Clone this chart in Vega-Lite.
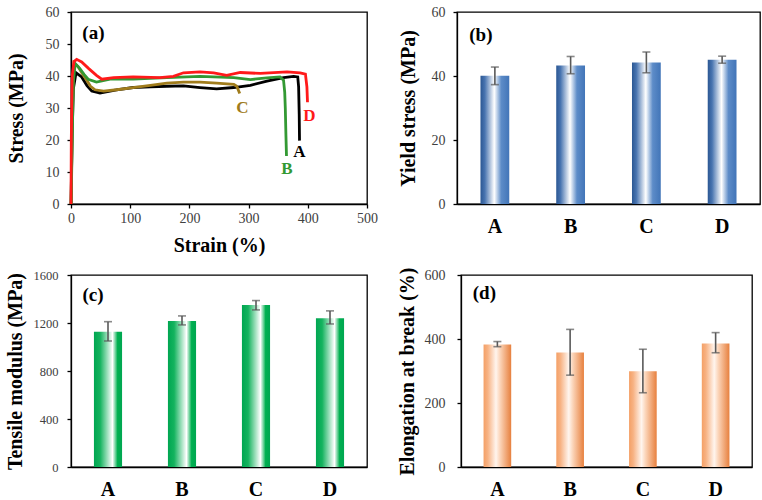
{
  "$schema": "https://vega.github.io/schema/vega-lite/v6.json",
  "autosize": {"type": "pad"},
  "padding": {"left": 4, "top": 4, "right": 0, "bottom": 0},
  "background": "white",
  "datasets": {
    "curves": [
      {"series":"A","strain":0,"stress":0},{"series":"A","strain":2,"stress":22},{"series":"A","strain":4,"stress":36},{"series":"A","strain":8.5,"stress":41},{"series":"A","strain":18,"stress":39.7},{"series":"A","strain":27,"stress":37},{"series":"A","strain":35,"stress":35.3},{"series":"A","strain":49,"stress":34.7},{"series":"A","strain":77,"stress":35.7},{"series":"A","strain":105,"stress":36.4},{"series":"A","strain":134,"stress":36.6},{"series":"A","strain":162,"stress":36.8},{"series":"A","strain":190,"stress":36.9},{"series":"A","strain":218,"stress":36.4},{"series":"A","strain":246,"stress":36},{"series":"A","strain":275,"stress":36.4},{"series":"A","strain":303,"stress":37.1},{"series":"A","strain":331,"stress":38.4},{"series":"A","strain":359,"stress":39.5},{"series":"A","strain":376,"stress":39.9},{"series":"A","strain":383,"stress":39.7},{"series":"A","strain":384.5,"stress":36.6},{"series":"A","strain":385.5,"stress":28},{"series":"A","strain":386,"stress":19.8},
      {"series":"C","strain":0.2,"stress":0},{"series":"C","strain":2,"stress":26},{"series":"C","strain":3.5,"stress":38},{"series":"C","strain":5,"stress":44.1},{"series":"C","strain":12,"stress":42.9},{"series":"C","strain":20,"stress":40.5},{"series":"C","strain":26.5,"stress":38.7},{"series":"C","strain":33,"stress":36.8},{"series":"C","strain":40.6,"stress":35.7},{"series":"C","strain":55,"stress":35.3},{"series":"C","strain":77,"stress":35.7},{"series":"C","strain":105,"stress":36.4},{"series":"C","strain":134,"stress":37.1},{"series":"C","strain":162,"stress":37.8},{"series":"C","strain":190,"stress":38.1},{"series":"C","strain":218,"stress":38.1},{"series":"C","strain":246,"stress":37.8},{"series":"C","strain":275,"stress":37.4},{"series":"C","strain":280,"stress":36.8},{"series":"C","strain":285,"stress":34.5},
      {"series":"B","strain":0.3,"stress":0},{"series":"B","strain":2.3,"stress":24},{"series":"B","strain":4,"stress":38},{"series":"B","strain":7,"stress":43.9},{"series":"B","strain":15,"stress":42.3},{"series":"B","strain":22,"stress":40.5},{"series":"B","strain":29,"stress":39},{"series":"B","strain":43,"stress":38.1},{"series":"B","strain":66,"stress":39},{"series":"B","strain":105,"stress":39},{"series":"B","strain":162,"stress":39.5},{"series":"B","strain":218,"stress":39.9},{"series":"B","strain":275,"stress":39.5},{"series":"B","strain":303,"stress":38.9},{"series":"B","strain":331,"stress":39.4},{"series":"B","strain":353,"stress":39.7},{"series":"B","strain":359,"stress":38.7},{"series":"B","strain":361,"stress":35},{"series":"B","strain":362,"stress":30},{"series":"B","strain":363,"stress":21.9},{"series":"B","strain":364,"stress":15},
      {"series":"D","strain":0,"stress":0},{"series":"D","strain":0.5,"stress":20},{"series":"D","strain":2,"stress":40},{"series":"D","strain":5,"stress":44.5},{"series":"D","strain":9.6,"stress":45.2},{"series":"D","strain":18,"stress":44.4},{"series":"D","strain":30,"stress":42.3},{"series":"D","strain":43,"stress":40.2},{"series":"D","strain":52,"stress":39},{"series":"D","strain":72,"stress":39.5},{"series":"D","strain":105,"stress":39.7},{"series":"D","strain":150,"stress":39.5},{"series":"D","strain":173,"stress":39.9},{"series":"D","strain":190,"stress":41},{"series":"D","strain":218,"stress":41.3},{"series":"D","strain":241,"stress":41},{"series":"D","strain":263,"stress":40.2},{"series":"D","strain":286,"stress":41.1},{"series":"D","strain":320,"stress":40.8},{"series":"D","strain":365,"stress":41.3},{"series":"D","strain":387,"stress":41},{"series":"D","strain":396,"stress":40.6},{"series":"D","strain":398.5,"stress":36.6},{"series":"D","strain":399.5,"stress":31.8}
    ],
    "curveLabels": [
      {"series":"A","strain":386,"stress":16.1},
      {"series":"B","strain":364.7,"stress":10.8},
      {"series":"C","strain":289.7,"stress":30},
      {"series":"D","strain":402.5,"stress":27.4}
    ],
    "yield": [
      {"sample":"A","value":40.1,"lo":37.3,"hi":42.8},
      {"sample":"B","value":43.3,"lo":40.7,"hi":46.1},
      {"sample":"C","value":44.2,"lo":41.0,"hi":47.5},
      {"sample":"D","value":45.1,"lo":44.0,"hi":46.2}
    ],
    "modulus": [
      {"sample":"A","value":1127,"lo":1050,"hi":1211},
      {"sample":"B","value":1217,"lo":1184,"hi":1259},
      {"sample":"C","value":1351,"lo":1309,"hi":1387},
      {"sample":"D","value":1239,"lo":1192,"hi":1301}
    ],
    "elong": [
      {"sample":"A","value":383,"lo":376,"hi":392},
      {"sample":"B","value":358,"lo":287,"hi":430},
      {"sample":"C","value":299,"lo":232,"hi":368},
      {"sample":"D","value":386,"lo":357,"hi":420}
    ]
  },
  "config": {
    "font": "Liberation Serif",
    "view": {"stroke": "black", "strokeWidth": 1.3},
    "axis": {
      "domainColor": "black", "domainWidth": 1.3, "tickColor": "black", "tickWidth": 1.3, "tickSize": 4,
      "labelColor": "#404040", "labelFont": "Liberation Serif", "labelFontSize": 14, "labelOverlap": false, "labelFlush": false,
      "titleFont": "Liberation Serif", "titleFontSize": 20, "titleFontWeight": "bold", "titleColor": "black",
      "grid": false
    }
  },
  "spacing": 10,
  "vconcat": [
    {
      "spacing": 90,
      "bounds": "flush",
      "hconcat": [
        {
          "width": 296, "height": 192,
          "encoding": {
            "x": {"field": "strain", "type": "quantitative", "scale": {"domain": [0, 500], "nice": false},
                  "axis": {"values": [0, 100, 200, 300, 400, 500], "tickCount": 20, "title": "Strain (%)", "labelPadding": 3, "titlePadding": 10}},
            "y": {"field": "stress", "type": "quantitative", "scale": {"domain": [0, 60], "nice": false},
                  "axis": {"values": [0, 10, 20, 30, 40, 50, 60], "tickCount": 20, "title": "Stress (MPa)", "labelPadding": 8, "titlePadding": 19}}
          },
          "layer": [
            {
              "data": {"name": "curves"},
              "mark": {"type": "line", "strokeWidth": 2.8},
              "encoding": {
                "color": {"field": "series", "type": "nominal", "scale": {"domain": ["A", "B", "C", "D"], "range": ["#000000", "#339933", "#a07c1c", "#ff1a1a"]}, "legend": null}
              }
            },
            {
              "data": {"name": "curveLabels"},
              "mark": {"type": "text", "fontWeight": "bold", "fontSize": 17, "font": "Liberation Serif", "align": "center", "baseline": "middle"},
              "encoding": {
                "text": {"field": "series"},
                "color": {"field": "series", "type": "nominal", "legend": null}
              }
            },
            {
              "data": {"values": [{"label": "(a)", "strain": 37.8, "stress": 53.4}]},
              "mark": {"type": "text", "fontWeight": "bold", "fontSize": 19, "font": "Liberation Serif", "align": "center", "baseline": "middle", "color": "black"},
              "encoding": {
                "text": {"field": "label"}
              }
            }
          ]
        },
        {
          "width": 303, "height": 192,
          "data": {"name": "yield"},
          "encoding": {
            "x": {"field": "sample", "type": "nominal", "scale": {"paddingInner": 0.62, "paddingOuter": 0.31},
                  "axis": {"title": null, "ticks": false, "labelAngle": 0, "labelFontWeight": "bold", "labelFontSize": 20, "labelColor": "black", "labelPadding": 12}}
          },
          "layer": [
            {
              "mark": {"type": "bar", "color": {"gradient": "linear", "x1": 0, "x2": 1, "y1": 0, "y2": 0,
                "stops": [{"offset": 0, "color": "#2b5793"}, {"offset": 0.15, "color": "#4874b0"}, {"offset": 0.48, "color": "#ffffff"}, {"offset": 0.72, "color": "#5d8cc8"}, {"offset": 1, "color": "#4275b8"}]}},
              "encoding": {
                "y": {"field": "value", "type": "quantitative", "scale": {"domain": [0, 60], "nice": false},
                      "axis": {"values": [0, 20, 40, 60], "tickCount": 20, "title": "Yield stress (MPa)", "labelPadding": 8, "titlePadding": 13}}
              }
            },
            {
              "mark": {"type": "rule", "color": "#595959", "strokeWidth": 1.6},
              "encoding": {"y": {"field": "lo", "type": "quantitative"}, "y2": {"field": "hi"}}
            },
            {
              "mark": {"type": "tick", "color": "#595959", "thickness": 1.6, "size": 8},
              "encoding": {"y": {"field": "lo", "type": "quantitative"}}
            },
            {
              "mark": {"type": "tick", "color": "#595959", "thickness": 1.6, "size": 8},
              "encoding": {"y": {"field": "hi", "type": "quantitative"}}
            },
            {
              "data": {"values": [{"label": "(b)"}]},
              "mark": {"type": "text", "fontWeight": "bold", "fontSize": 19, "font": "Liberation Serif", "align": "center", "baseline": "middle", "color": "black", "dx": -14},
              "encoding": {
                "x": {"datum": "A", "type": "nominal"},
                "y": {"datum": 52.7, "type": "quantitative"},
                "text": {"field": "label"}
              }
            }
          ]
        }
      ]
    },
    {
      "spacing": 94,
      "bounds": "flush",
      "hconcat": [
        {
          "width": 296, "height": 192,
          "data": {"name": "modulus"},
          "encoding": {
            "x": {"field": "sample", "type": "nominal", "scale": {"paddingInner": 0.62, "paddingOuter": 0.31},
                  "axis": {"title": null, "ticks": false, "labelAngle": 0, "labelFontWeight": "bold", "labelFontSize": 20, "labelColor": "black", "labelPadding": 12}}
          },
          "layer": [
            {
              "mark": {"type": "bar", "color": {"gradient": "linear", "x1": 0, "x2": 1, "y1": 0, "y2": 0,
                "stops": [{"offset": 0, "color": "#00a651"}, {"offset": 0.22, "color": "#14b35e"}, {"offset": 0.66, "color": "#ffffff"}, {"offset": 0.84, "color": "#00b050"}, {"offset": 1, "color": "#00a651"}]}},
              "encoding": {
                "y": {"field": "value", "type": "quantitative", "scale": {"domain": [0, 1600], "nice": false},
                      "axis": {"values": [0, 400, 800, 1200, 1600], "tickCount": 20, "format": "d", "labelFontSize": 12.5, "title": "Tensile modulus (MPa)", "labelPadding": 9, "titlePadding": 8}}
              }
            },
            {
              "mark": {"type": "rule", "color": "#595959", "strokeWidth": 1.6},
              "encoding": {"y": {"field": "lo", "type": "quantitative"}, "y2": {"field": "hi"}}
            },
            {
              "mark": {"type": "tick", "color": "#595959", "thickness": 1.6, "size": 8},
              "encoding": {"y": {"field": "lo", "type": "quantitative"}}
            },
            {
              "mark": {"type": "tick", "color": "#595959", "thickness": 1.6, "size": 8},
              "encoding": {"y": {"field": "hi", "type": "quantitative"}}
            },
            {
              "data": {"values": [{"label": "(c)"}]},
              "mark": {"type": "text", "fontWeight": "bold", "fontSize": 19, "font": "Liberation Serif", "align": "center", "baseline": "middle", "color": "black", "dx": -15},
              "encoding": {
                "x": {"datum": "A", "type": "nominal"},
                "y": {"datum": 1434, "type": "quantitative"},
                "text": {"field": "label"}
              }
            }
          ]
        },
        {
          "width": 291, "height": 192,
          "data": {"name": "elong"},
          "encoding": {
            "x": {"field": "sample", "type": "nominal", "scale": {"paddingInner": 0.62, "paddingOuter": 0.31},
                  "axis": {"title": null, "ticks": false, "labelAngle": 0, "labelFontWeight": "bold", "labelFontSize": 20, "labelColor": "black", "labelPadding": 12}}
          },
          "layer": [
            {
              "mark": {"type": "bar", "color": {"gradient": "linear", "x1": 0, "x2": 1, "y1": 0, "y2": 0,
                "stops": [{"offset": 0, "color": "#f4a066"}, {"offset": 0.15, "color": "#f7b283"}, {"offset": 0.45, "color": "#fff5ee"}, {"offset": 0.6, "color": "#fbd4b8"}, {"offset": 1, "color": "#e7803e"}]}},
              "encoding": {
                "y": {"field": "value", "type": "quantitative", "scale": {"domain": [0, 600], "nice": false},
                      "axis": {"values": [0, 200, 400, 600], "tickCount": 20, "title": "Elongation at break (%)", "labelPadding": 12, "titlePadding": 7}}
              }
            },
            {
              "mark": {"type": "rule", "color": "#595959", "strokeWidth": 1.6},
              "encoding": {"y": {"field": "lo", "type": "quantitative"}, "y2": {"field": "hi"}}
            },
            {
              "mark": {"type": "tick", "color": "#595959", "thickness": 1.6, "size": 8},
              "encoding": {"y": {"field": "lo", "type": "quantitative"}}
            },
            {
              "mark": {"type": "tick", "color": "#595959", "thickness": 1.6, "size": 8},
              "encoding": {"y": {"field": "hi", "type": "quantitative"}}
            },
            {
              "data": {"values": [{"label": "(d)"}]},
              "mark": {"type": "text", "fontWeight": "bold", "fontSize": 19, "font": "Liberation Serif", "align": "center", "baseline": "middle", "color": "black", "dx": -13},
              "encoding": {
                "x": {"datum": "A", "type": "nominal"},
                "y": {"datum": 543, "type": "quantitative"},
                "text": {"field": "label"}
              }
            }
          ]
        }
      ]
    }
  ]
}
